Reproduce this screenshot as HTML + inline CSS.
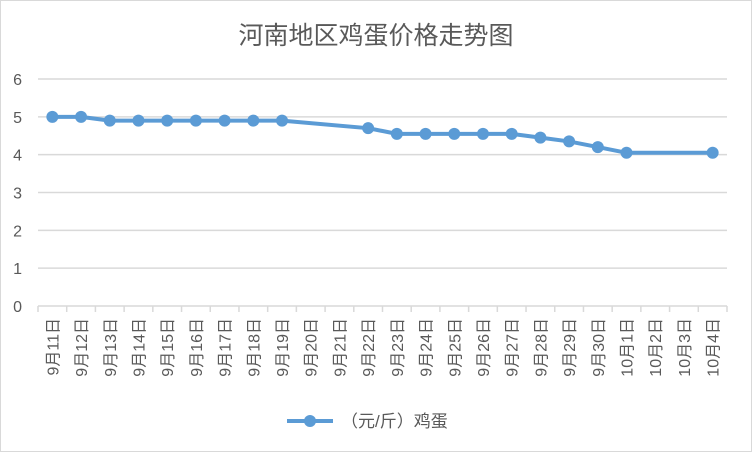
<!DOCTYPE html>
<html><head><meta charset="utf-8"><style>
body{margin:0;background:#fff}
svg{display:block;font-family:"Liberation Sans","Noto Sans CJK SC",sans-serif}
</style></head><body>
<svg width="752" height="452">
<rect x="0.5" y="0.5" width="751" height="451" fill="#fff" stroke="#d9d9d9"/>
<text x="376" y="44" text-anchor="middle" font-size="25" fill="#595959">河南地区鸡蛋价格走势图</text>
<g id="grid"></g><g id="xaxis"></g><g id="series"></g>
<g>
<line x1="287" y1="421" x2="333" y2="421" stroke="#5b9bd5" stroke-width="4"/>
<circle cx="310" cy="421" r="6" fill="#5b9bd5"/>
<text x="341" y="427" font-size="17" fill="#595959">（元/斤）鸡蛋</text>
</g>
</svg>
<script>
const categories=["9月11日","9月12日","9月13日","9月14日","9月15日","9月16日","9月17日","9月18日","9月19日","9月20日","9月21日","9月22日","9月23日","9月24日","9月25日","9月26日","9月27日","9月28日","9月29日","9月30日","10月1日","10月2日","10月3日","10月4日"];
const values=[5,5,4.9,4.9,4.9,4.9,4.9,4.9,4.9,null,null,4.7,4.55,4.55,4.55,4.55,4.55,4.45,4.35,4.2,4.05,null,null,4.05];
const yTicks=[0,1,2,3,4,5,6];
const NS="http://www.w3.org/2000/svg";
const x0=38,x1=727,y0=306,yTop=79,yMax=6;
const step=(x1-x0)/categories.length;
const xS=i=>x0+step*(i+0.5);
const yS=v=>y0-(v/yMax)*(y0-yTop);
function mk(t,a,p){const e=document.createElementNS(NS,t);for(const k in a)e.setAttribute(k,a[k]);p.appendChild(e);return e;}
const grid=document.getElementById('grid');
yTicks.forEach(v=>{
  if(v>0){const l=mk('line',{x1:x0,x2:x1,y1:yS(v),y2:yS(v),stroke:'#d9d9d9','stroke-width':1.5},grid);
  
  }
  const t=mk('text',{x:22,y:yS(v)+6,'text-anchor':'end','font-size':16,fill:'#595959'},grid);
  t.textContent=v;
  
  
});
const xa=document.getElementById('xaxis');
const ax=mk('line',{x1:x0,x2:x1,y1:y0,y2:y0,stroke:'#d9d9d9','stroke-width':1.5},xa);


for(let i=0;i<=categories.length;i++){
  const tk=mk('line',{x1:x0+step*i,x2:x0+step*i,y1:y0,y2:y0+6,stroke:'#d9d9d9','stroke-width':1.5},xa);
  
  
}
categories.forEach((c,i)=>{
  const t=mk('text',{x:0,y:0,'text-anchor':'end','font-size':16,fill:'#595959',transform:`translate(${xS(i)+6},318) rotate(-90)`},xa);
  t.textContent=c;
  
  
});
const sg=document.getElementById('series');
const pts=[];values.forEach((v,i)=>{if(v!=null)pts.push([xS(i),yS(v)]);});
const pl=mk('polyline',{points:pts.map(p=>p.join(',')).join(' '),fill:'none',stroke:'#5b9bd5','stroke-width':4,'stroke-linejoin':'round'},sg);


values.forEach((v,i)=>{if(v==null)return;
  const c=mk('circle',{cx:xS(i),cy:yS(v),r:6,fill:'#5b9bd5'},sg);
  
  
});
</script>
</body></html>
